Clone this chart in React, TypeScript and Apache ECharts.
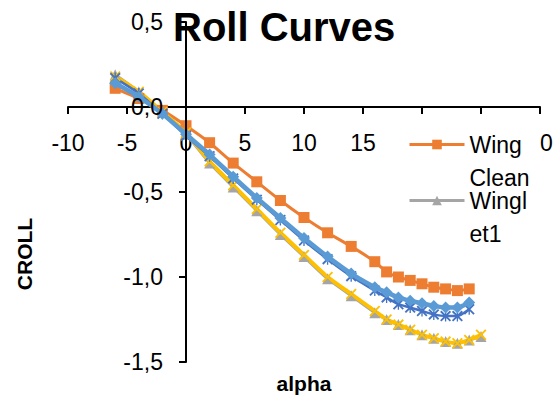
import React, { useEffect, useRef } from "react";
import * as echarts from "echarts";

const titleText = "Roll Curves";
const xAxisTitle = "alpha";
const yAxisTitle = "CROLL";

const xMain = [-6, -4, -2, 0, 2, 4, 6, 8, 10, 12, 14, 16, 17, 18, 19, 20, 21, 22, 23, 24];
const xLong = [-6, -4, -2, 0, 2, 4, 6, 8, 10, 12, 14, 16, 17, 18, 19, 20, 21, 22, 23, 24, 25];

const seriesNames = ["Winglet2", "Wing Clean", "Winglet1", "Winglet3", "Winglet4"];

const lightBlueY = [0.14, 0.06, -0.04, -0.16, -0.28, -0.41, -0.535, -0.653, -0.77, -0.88, -0.98, -1.06, -1.09, -1.12, -1.14, -1.155, -1.17, -1.18, -1.18, -1.15];
const wingCleanY = [0.11, 0.05, -0.02, -0.11, -0.21, -0.33, -0.44, -0.55, -0.65, -0.74, -0.82, -0.91, -0.97, -1.0, -1.02, -1.04, -1.06, -1.07, -1.08, -1.07];
const winglet1Y = [0.19, 0.09, -0.03, -0.16, -0.33, -0.47, -0.61, -0.75, -0.88, -1.01, -1.11, -1.21, -1.25, -1.28, -1.31, -1.34, -1.36, -1.38, -1.39, -1.37, -1.35];
const yellowY = [0.18, 0.09, -0.03, -0.15, -0.32, -0.46, -0.6, -0.74, -0.87, -1.0, -1.1, -1.2, -1.25, -1.28, -1.31, -1.34, -1.36, -1.38, -1.39, -1.37, -1.34];
const darkBlueY = [0.17, 0.08, -0.04, -0.17, -0.29, -0.42, -0.545, -0.665, -0.785, -0.895, -0.995, -1.08, -1.12, -1.16, -1.18, -1.2, -1.22, -1.23, -1.23, -1.19];

const legendLabels: Record<string, string> = {
  "Wing Clean": " \nWing\nClean",
  Winglet1: " \nWingl\net1",
};

const FONT = "'Liberation Sans', Arial, sans-serif";

const X_SYMBOL = "path://M0,1.2L1.2,0L10,8.8L8.8,10ZM8.8,0L10,1.2L1.2,10L0,8.8Z";
const STAR_SYMBOL =
  "path://M0,1.2L1.2,0L10,8.8L8.8,10ZM8.8,0L10,1.2L1.2,10L0,8.8ZM4.4,0L5.6,0L5.6,10L4.4,10Z";

function zip(xs: number[], ys: number[]) {
  return ys.map((y, i) => [xs[i], y]);
}

export default function App() {
  const ref = useRef<HTMLDivElement>(null);
  useEffect(() => {
    if (!ref.current) return;
    const chart = echarts.init(ref.current, undefined, { renderer: "svg" });
    const legendText = {
      fontSize: 23,
      fontFamily: FONT,
      color: "#000",
      lineHeight: 33,
    };
    const legendCommon = {
      orient: "vertical",
      left: 408,
      padding: 0,
      itemWidth: 55,
      itemHeight: 12,
      lineStyle: { width: 3 },
      formatter: (n: string) => legendLabels[n] || n,
      textStyle: legendText,
    };
    chart.setOption({
      animation: false,
      backgroundColor: "#fff",
      title: {
        text: titleText,
        left: 173,
        top: 7,
        padding: 0,
        textStyle: { fontSize: 40, fontWeight: "bold", fontFamily: FONT, color: "#000" },
      },
      legend: [
        { ...legendCommon, data: ["Wing Clean"], top: 95 },
        { ...legendCommon, data: ["Winglet1"], top: 151 },
      ],
      grid: { left: 68, right: 13, top: 22, bottom: 37, outerBoundsMode: "none", containLabel: false },
      xAxis: {
        type: "value",
        min: -10,
        max: 30,
        interval: 5,
        offset: -255,
        axisLine: { onZero: false, lineStyle: { color: "#000", width: 2 } },
        axisTick: { show: true, length: 7, lineStyle: { color: "#000", width: 2 } },
        splitLine: { show: false },
        axisLabel: {
          margin: 24,
          fontSize: 23,
          fontFamily: FONT,
          color: "#000",
          formatter: (v: number) =>
            v === 20 || v === 25 ? "" : v === 30 ? "{h|3}0" : String(v),
          rich: {
            h: { color: "rgba(0,0,0,0)", fontSize: 23, fontFamily: FONT },
          },
        },
      },
      yAxis: {
        type: "value",
        min: -1.5,
        max: 0.5,
        interval: 0.5,
        offset: -118,
        z: 5,
        axisLine: { onZero: false, lineStyle: { color: "#000", width: 2 } },
        axisTick: { show: true, length: 7, lineStyle: { color: "#000", width: 2 } },
        splitLine: { show: false },
        axisLabel: {
          margin: 23,
          fontSize: 23,
          fontFamily: FONT,
          color: "#000",
          formatter: (v: number) => v.toFixed(1).replace(".", ","),
        },
      },
      graphic: [
        {
          type: "text",
          x: 24,
          y: 254,
          rotation: Math.PI / 2,
          style: {
            text: yAxisTitle,
            fontSize: 21,
            fontWeight: "bold",
            fontFamily: FONT,
            fill: "#000",
            align: "center",
            verticalAlign: "middle",
          },
        },
        {
          type: "text",
          x: 304,
          y: 383,
          style: {
            text: xAxisTitle,
            fontSize: 21,
            fontWeight: "bold",
            fontFamily: FONT,
            fill: "#000",
            align: "center",
            verticalAlign: "middle",
          },
        },
      ],
      series: [
        {
          name: seriesNames[0],
          type: "line",
          z: 4,
          data: zip(xMain, lightBlueY),
          symbol: "diamond",
          symbolSize: 12,
          smooth: 0.2,
          itemStyle: { color: "#5B9BD5" },
          lineStyle: { color: "#5B9BD5", width: 4.5 },
        },
        {
          name: seriesNames[1],
          type: "line",
          data: zip(xMain, wingCleanY),
          symbol: "rect",
          symbolSize: 11,
          smooth: 0.2,
          itemStyle: { color: "#ED7D31" },
          lineStyle: { color: "#ED7D31", width: 3 },
        },
        {
          name: seriesNames[2],
          type: "line",
          data: zip(xLong, winglet1Y),
          symbol: "triangle",
          symbolSize: 11,
          smooth: 0.2,
          itemStyle: { color: "#A5A5A5" },
          lineStyle: { color: "#A5A5A5", width: 3 },
        },
        {
          name: seriesNames[3],
          type: "line",
          data: zip(xLong, yellowY),
          symbol: X_SYMBOL,
          symbolSize: 11,
          smooth: 0.2,
          itemStyle: { color: "#FFC000" },
          lineStyle: { color: "#FFC000", width: 4 },
        },
        {
          name: seriesNames[4],
          type: "line",
          z: 3,
          data: zip(xMain, darkBlueY),
          symbol: STAR_SYMBOL,
          symbolSize: 11,
          smooth: 0.2,
          itemStyle: { color: "#4472C4" },
          lineStyle: { color: "#4472C4", width: 2.5 },
        },
      ],
    });
    return () => chart.dispose();
  }, []);
  return (
    <div
      ref={ref}
      style={{ position: "fixed", left: 0, top: 0, width: 553, height: 399 }}
    />
  );
}
